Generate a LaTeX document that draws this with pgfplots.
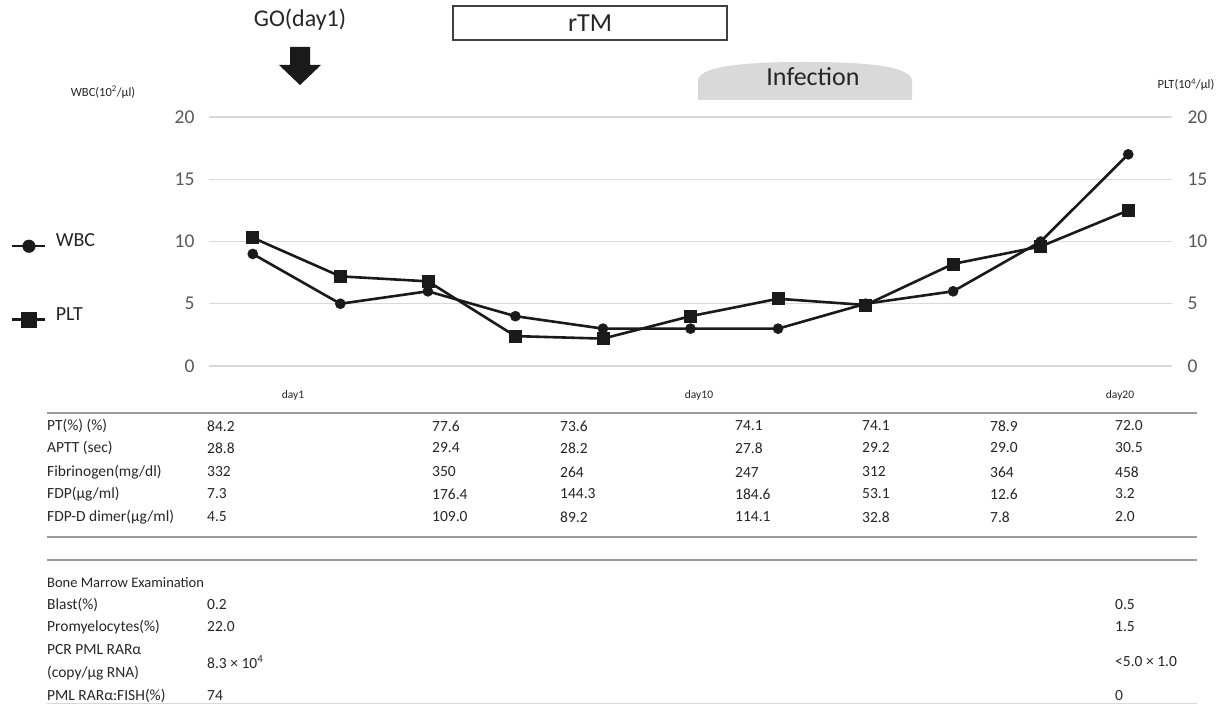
\documentclass[border=0pt]{standalone}
\usepackage{fontspec}
\setmainfont{Carlito}
\usepackage{pgfplots}
\pgfplotsset{compat=1.18}

\definecolor{gridgray}{HTML}{D9D9D9}
\definecolor{ticktext}{HTML}{595959}
\definecolor{rulegray}{HTML}{9C9C9C}
\definecolor{ink}{HTML}{1A1A1A}
\definecolor{tabtext}{HTML}{262626}

\newcommand\tabfont{\fontsize{15.5}{18}\selectfont}
\newcommand\bigfont{\fontsize{26}{30}\selectfont}

\begin{document}
\begin{tikzpicture}[x=1pt,y=1pt,
  tab/.style={anchor=west, inner sep=0pt, font=\tabfont, text=tabtext}]
\path[use as bounding box, fill=white] (0,0) rectangle (1226,705);

% curves
\begin{axis}[
  at={(209pt,339pt)}, anchor=south west,
  scale only axis, width=963pt, height=249pt,
  xmin=-0.5, xmax=10.5, ymin=0, ymax=20,
  axis line style={draw=none},
  tick style={draw=none},
  xtick=\empty,
  ytick={0,5,10,15,20},
  ymajorgrids,
  grid style={gridgray, line width=1.2pt},
  yticklabel style={font=\fontsize{19.5}{22}\selectfont, text=ticktext, xshift=-11pt},
  /pgf/number format/assume math mode=true,
  clip=false,
  legend style={at={(-0.2056,0.531)}, anchor=north west, draw=none, fill=none,
    font=\fontsize{20}{24}\selectfont, row sep=55pt, column sep=0pt,
    inner sep=0pt, nodes={inner sep=0pt, text=tabtext}},
  legend cell align=left,
  legend image code/.code={%
    \draw[ink, line width=2.5pt] (0pt,-5pt) -- (33pt,-5pt);
    \draw[#1, only marks, mark options={line width=0.6pt, scale=1.25}]
      plot coordinates {(16.5pt,-5pt)};
    \path (42pt,0pt);},
]
\addplot[ink, line width=2.6pt, mark=*, mark size=5pt,
  mark options={line width=0.6pt}]
  coordinates {(0,9)(1,5)(2,6)(3,4)(4,3)(5,3)(6,3)(7,5)(8,6)(9,10)(10,17)};
\addlegendentry{WBC}
\addplot[ink, line width=2.6pt, mark=square*, mark size=6pt,
  mark options={line width=0.6pt}]
  coordinates {(0,10.3)(1,7.2)(2,6.8)(3,2.4)(4,2.2)(5,4.0)(6,5.4)(7,4.9)(8,8.2)(9,9.6)(10,12.5)};
\addlegendentry{PLT}
\end{axis}

% right-hand tick labels
\begin{axis}[
  at={(209pt,339pt)}, anchor=south west,
  scale only axis, width=963pt, height=249pt,
  xmin=-0.5, xmax=10.5, ymin=0, ymax=20,
  axis line style={draw=none},
  tick style={draw=none},
  xtick=\empty,
  ytick={0,5,10,15,20},
  yticklabel pos=right,
  yticklabel style={font=\fontsize{19.5}{22}\selectfont, text=ticktext, xshift=12pt},
  /pgf/number format/assume math mode=true,
]
\addplot[draw=none] coordinates {(0,0)};
\end{axis}

% axis titles
\node[font=\fontsize{12.5}{14}\selectfont, text=tabtext] at (103,705-92) {WBC(10\textsuperscript{2}/μl)};
\node[font=\fontsize{12.5}{14}\selectfont, text=tabtext] at (1186,705-85) {PLT(10\textsuperscript{4}/μl)};

% treatment annotations
\node[font=\fontsize{24}{28}\selectfont, text=tabtext] at (300,705-20) {GO(day1)};
\fill[ink] (290,705-47) -- (310,705-47) -- (310,705-65) -- (321,705-65)
  -- (300,705-85) -- (279,705-65) -- (290,705-65) -- cycle;
\draw[line width=1.3pt, draw=black!75] (453,705-6) rectangle (727,705-40);
\node[font=\bigfont, text=tabtext] at (590,705-23) {rTM};
\fill[gridgray] (698,705-100) -- (698,705-80)
  .. controls (700,705-64) and (760,705-62) .. (805,705-62)
  .. controls (850,705-62) and (910,705-64) .. (912,705-80)
  -- (912,705-100) -- cycle;
\node[font=\bigfont, text=tabtext] at (813,705-77) {Infection};

% day labels
\node[font=\fontsize{11.5}{13}\selectfont, text=tabtext] at (293,705-395) {day1};
\node[font=\fontsize{11.5}{13}\selectfont, text=tabtext] at (699,705-395) {day10};
\node[font=\fontsize{11.5}{13}\selectfont, text=tabtext] at (1120,705-395) {day20};

% laboratory table
\draw[rulegray, line width=2.2pt] (47,705-413) -- (1197,705-413);
\draw[rulegray, line width=2.2pt] (47,705-537) -- (1197,705-537);
\draw[rulegray, line width=2.2pt] (47,705-560) -- (1197,705-560);
\draw[gridgray, line width=1pt] (47,1.5) -- (1197,1.5);

\newcommand\row[9]{%
  \node[tab] at (47,705-#1) {#2};
  \node[tab] at (207,705-#1) {#3};
  \node[tab] at (432,705-#1) {#4};
  \node[tab] at (560,705-#1) {#5};
  \node[tab] at (735,705-#1) {#6};
  \node[tab] at (862,705-#1) {#7};
  \node[tab] at (990,705-#1) {#8};
  \node[tab] at (1115,705-#1) {#9};}
\row{426}{PT(\%) (\%)}{84.2}{77.6}{73.6}{74.1}{74.1}{78.9}{72.0}
\row{448}{APTT (sec)}{28.8}{29.4}{28.2}{27.8}{29.2}{29.0}{30.5}
\row{472}{Fibrinogen(mg/dl)}{332}{350}{264}{247}{312}{364}{458}
\row{494}{FDP(μg/ml)}{7.3}{176.4}{144.3}{184.6}{53.1}{12.6}{3.2}
\row{517}{FDP-D dimer(μg/ml)}{4.5}{109.0}{89.2}{114.1}{32.8}{7.8}{2.0}

% bone marrow
\node[tab, font=\fontsize{14.5}{17}\selectfont] at (47,705-583) {Bone Marrow Examination};
\node[tab] at (47,705-605) {Blast(\%)};
\node[tab] at (207,705-605) {0.2};
\node[tab] at (1115,705-605) {0.5};
\node[tab] at (47,705-627) {Promyelocytes(\%)};
\node[tab] at (207,705-627) {22.0};
\node[tab] at (1115,705-627) {1.5};
\node[tab] at (47,705-650) {PCR PML RARα};
\node[tab] at (47,705-673) {(copy/μg RNA)};
\node[tab] at (207,705-662) {8.3 × 10\textsuperscript{4}};
\node[tab] at (1115,705-662) {<5.0 × 1.0};
\node[tab] at (47,705-696) {PML RARα:FISH(\%)};
\node[tab] at (207,705-696) {74};
\node[tab] at (1115,705-696) {0};
\end{tikzpicture}
\end{document}
